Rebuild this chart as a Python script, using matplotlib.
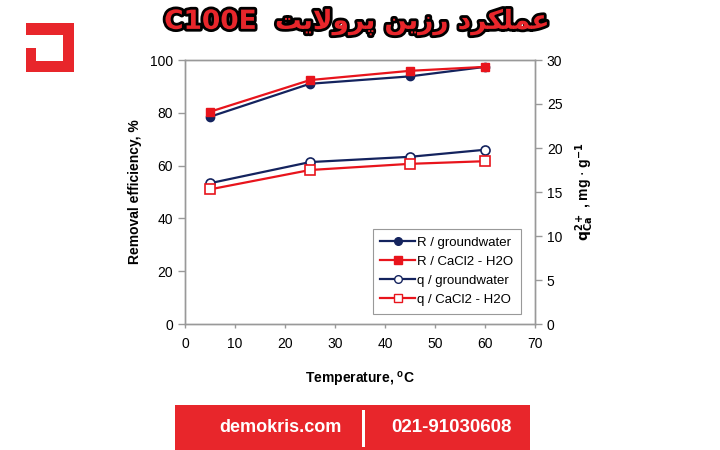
import matplotlib
matplotlib.use("Agg")
import matplotlib.pyplot as plt
import matplotlib.patheffects as pe
from matplotlib.patches import Rectangle, Polygon
from matplotlib.lines import Line2D

# ---- data ----
temperature = [5, 25, 45, 60]
R_groundwater = [78.5, 91.0, 93.8, 97.4]
R_cacl2 = [80.4, 92.4, 95.9, 97.4]
q_groundwater = [16.0, 18.4, 19.0, 19.8]
q_cacl2 = [15.3, 17.5, 18.2, 18.5]
labels = ["R / groundwater", "R / CaCl2 - H2O", "q / groundwater", "q / CaCl2 - H2O"]
x_ticks = [0, 10, 20, 30, 40, 50, 60, 70]
left_ticks = [0, 20, 40, 60, 80, 100]
right_ticks = [0, 5, 10, 15, 20, 25, 30]

# Persian title in presentation forms, visual (LTR) order
title_text = ("C100E  " + "\uFE96\uFBFE\uFEFB\uFEED\uFEAE\uFB58" + " "
              + "\uFEE6\uFBFE\uFEAF\uFEAD" + " "
              + "\uFEA9\uFEAE\uFB91\uFEE0\uFEE4\uFECB")

NAVY = "#14235e"
RED = "#e8141c"
GRAY = "#999999"
FONT = ["Liberation Sans", "DejaVu Sans"]

W, H = 720, 450
fig = plt.figure(figsize=(7.2, 4.5), dpi=100)
fig.patch.set_facecolor("white")

# decoration overlay in pixel coords
deco = fig.add_axes([0, 0, 1, 1], zorder=0)
deco.set_xlim(0, W)
deco.set_ylim(H, 0)
deco.axis("off")
# logo
logo = Polygon([(26, 23), (74, 23), (74, 72), (26, 72), (26, 48), (36, 48),
                (36, 61), (63, 61), (63, 35), (26, 35)], closed=True,
               facecolor="#e8262b", edgecolor="none")
deco.add_patch(logo)
# banner
deco.add_patch(Rectangle((175, 405), 355, 45, facecolor="#e8262b", edgecolor="none"))
deco.add_patch(Rectangle((361.5, 410), 3, 37, facecolor="white", edgecolor="none"))
deco.text(280, 427, "demokris.com", color="white", fontsize=13, fontweight="bold",
          ha="center", va="center", family=FONT)
deco.text(451, 428, "021-91030608", color="white", fontsize=13.5, fontweight="bold",
          ha="center", va="center", family=FONT)
# title
deco.text(357, 22, title_text, color="#e8262b", fontsize=19, fontweight="bold",
          ha="center", va="center", family=["DejaVu Sans"],
          path_effects=[pe.Stroke(linewidth=4, foreground="black"), pe.Normal()])

# main axes
ax = fig.add_axes([185 / W, 1 - 324 / H, 350 / W, 264 / H], zorder=2)
ax.patch.set_alpha(0)
ax2 = ax.twinx()

ax.plot(temperature, R_groundwater, color=NAVY, lw=1.6, marker="o", ms=6,
        mfc=NAVY, mec=NAVY, zorder=3)
ax.plot(temperature, R_cacl2, color=RED, lw=1.6, marker="s", ms=6,
        mfc=RED, mec=RED, zorder=3)
ax2.plot(temperature, q_groundwater, color=NAVY, lw=1.6, marker="o", ms=6.5,
         mfc="white", mec=NAVY, mew=1.2, zorder=3)
ax2.plot(temperature, q_cacl2, color=RED, lw=1.6, marker="s", ms=6.5,
         mfc="white", mec=RED, mew=1.2, zorder=3)

ax.set_xlim(0, 70)
ax.set_ylim(0, 100)
ax2.set_ylim(0, 30)
ax.set_xticks(x_ticks)
ax.set_yticks(left_ticks)
ax2.set_yticks(right_ticks)

for a in (ax, ax2):
    for s in a.spines.values():
        s.set_color(GRAY)
        s.set_linewidth(1.0)
    a.tick_params(colors=GRAY, labelcolor="black", labelsize=10, length=5,
                  direction="out", width=1.0)
    for lab in a.get_xticklabels() + a.get_yticklabels():
        lab.set_family(FONT)
ax.tick_params(axis="x", length=3, pad=6)

ax.set_xlabel("Temperature, $\\mathregular{^o}$C", fontsize=10, fontweight="bold",
              family=FONT, labelpad=14)
ax.set_ylabel("Removal efficiency, %", fontsize=10, fontweight="bold",
              family=FONT, labelpad=6)
ax2.set_ylabel(r"$\mathbf{q_{Ca}^{2+}}$ , mg $\cdot$ g$^{\mathbf{-1}}$", fontsize=10,
               fontweight="bold", family=FONT, labelpad=8)

handles = [
    Line2D([], [], color=NAVY, lw=1.6, marker="o", ms=5.5, mfc=NAVY, mec=NAVY),
    Line2D([], [], color=RED, lw=1.6, marker="s", ms=5.5, mfc=RED, mec=RED),
    Line2D([], [], color=NAVY, lw=1.6, marker="o", ms=5.5, mfc="white", mec=NAVY),
    Line2D([], [], color=RED, lw=1.6, marker="s", ms=5.5, mfc="white", mec=RED),
]
leg = ax2.legend(handles, labels, loc="upper left", bbox_to_anchor=(0.517, 0.385),
                 fancybox=False, framealpha=1, edgecolor=GRAY, handlelength=2.6,
                 handletextpad=0.2, borderpad=0.6, labelspacing=0.5,
                 prop={"family": FONT, "size": 9.5})
leg.get_frame().set_linewidth(0.8)

fig.savefig("out.png", dpi=100)
